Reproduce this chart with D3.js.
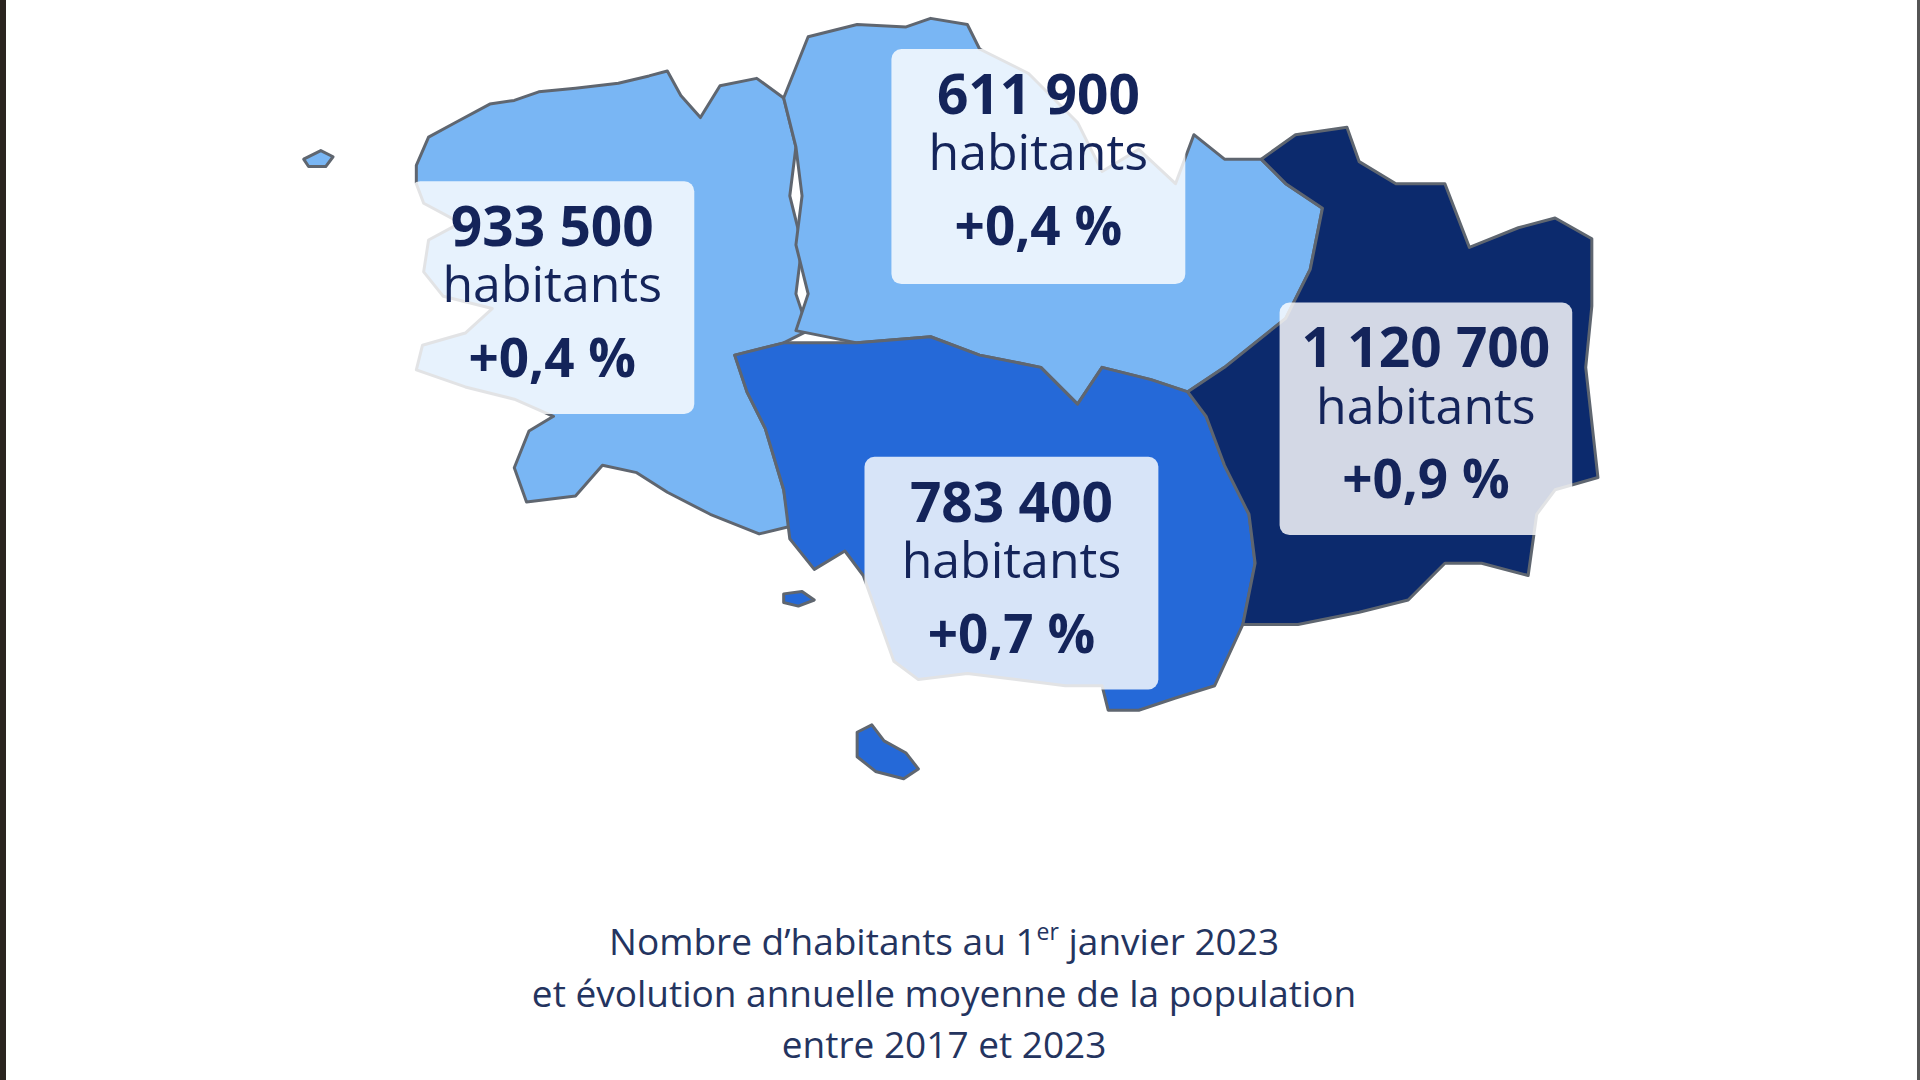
<!DOCTYPE html>
<html><head><meta charset="utf-8">
<script src="https://cdn.jsdelivr.net/npm/d3@7"></script>
<style>body{margin:0;background:#fff;overflow:hidden}svg{display:block}</style>
</head><body>
<script>
// Départements (reference grid units 1568x882)
const departements = ["Finistère","Côtes-d'Armor","Morbihan","Ille-et-Vilaine"];
const populations = ["933 500","611 900","783 400","1 120 700"];
const evolutions = ["+0,4 %","+0,4 %","+0,7 %","+0,9 %"];
const fills = ["#79b6f4","#79b6f4","#2569d8","#0c2a6d"];
const outlines = [
 [[340,135],[350,112],[372,100],[400,85],[420,82],[440,75],[470,72],[505,68],[530,62],[545,58],[556,78],[572,96],[588,70],[618,64],[640,80],[650,120],[645,160],[655,200],[650,240],[660,270],[640,280],[600,290],[610,320],[625,350],[640,400],[645,430],[620,436],[580,420],[545,402],[520,386],[492,380],[470,405],[430,410],[420,382],[432,352],[452,340],[420,326],[380,316],[340,302],[345,282],[380,272],[402,252],[362,242],[346,222],[350,196],[376,182],[346,166],[340,150]],
 [[640,80],[660,30],[700,20],[740,22],[760,15],[790,20],[800,40],[840,60],[880,100],[900,140],[930,122],[960,150],[975,110],[1000,130],[1030,130],[1050,150],[1080,170],[1070,220],[1050,260],[1000,300],[970,320],[940,310],[900,300],[880,330],[850,300],[800,290],[760,275],[700,280],[650,270],[660,240],[650,200],[655,160],[650,120]],
 [[600,290],[640,280],[700,280],[760,275],[800,290],[850,300],[880,330],[900,300],[940,310],[970,320],[985,340],[1000,380],[1020,420],[1025,460],[1015,510],[992,560],[960,570],[930,580],[905,580],[900,560],[870,560],[830,555],[790,550],[750,555],[730,540],[705,470],[690,450],[665,465],[645,440],[640,400],[625,350],[610,320]],
 [[1030,130],[1058,110],[1100,104],[1110,132],[1140,150],[1180,150],[1200,202],[1240,186],[1270,178],[1300,195],[1300,250],[1295,300],[1305,390],[1270,400],[1255,420],[1248,470],[1210,460],[1180,460],[1150,490],[1110,500],[1060,510],[1015,510],[1025,460],[1020,420],[1000,380],[985,340],[970,320],[1000,300],[1050,260],[1070,220],[1080,170],[1050,150]]
];
const islands = [
 {d:0, pts:[[248,130],[262,123],[272,128],[266,136],[252,136]]},
 {d:2, pts:[[700,598],[712,592],[722,605],[740,615],[750,628],[738,636],[715,630],[700,618]]},
 {d:2, pts:[[640,485],[655,483],[665,490],[652,495],[640,492]]}
];
const boxes = [[335,148,232,190],[728,40,240,192],[706,373,240,190],[1045,247,239,190]];
const caption = ["Nombre d’habitants au 1","et évolution annuelle moyenne de la population","entre 2017 et 2023"];

const W=1920,H=1080;
const x=d3.scaleLinear().domain([0,1568]).range([0,W]);
const y=d3.scaleLinear().domain([0,882]).range([0,H]);
const svg=d3.select("body").append("svg").attr("width",W).attr("height",H);
svg.append("rect").attr("width",W).attr("height",H).attr("fill","#fff");
svg.append("rect").attr("width",6).attr("height",H).attr("fill","#2a241f");
svg.append("rect").attr("x",W-3).attr("width",3).attr("height",H).attr("fill","#555");
const line=d3.line().x(d=>x(d[0])).y(d=>y(d[1])).curve(d3.curveLinearClosed);
const g=svg.append("g");
g.selectAll("path.dep").data(outlines).join("path").attr("d",line)
 .attr("fill",(d,i)=>fills[i]).attr("stroke","#5f6670").attr("stroke-width",3).attr("stroke-linejoin","round");
g.selectAll("path.isl").data(islands).join("path").attr("d",d=>line(d.pts))
 .attr("fill",d=>fills[d.d]).attr("stroke","#5f6670").attr("stroke-width",3).attr("stroke-linejoin","round");
const lab=svg.selectAll("g.lab").data(boxes).join("g");
lab.append("rect").attr("x",d=>x(d[0])).attr("y",d=>y(d[1])).attr("width",d=>x(d[2])).attr("height",d=>y(d[3]))
 .attr("rx",10).attr("fill","rgba(255,255,255,0.82)");
const cx=d=>x(d[0]+d[2]/2);
lab.append("text").attr("x",cx).attr("y",d=>y(d[1]+53)).text((d,i)=>populations[i])
 .attr("font-size",55).attr("font-weight",700);
lab.append("text").attr("x",cx).attr("y",d=>y(d[1]+99)).text("habitants").attr("font-size",50);
lab.append("text").attr("x",cx).attr("y",d=>y(d[1]+160)).text((d,i)=>evolutions[i])
 .attr("font-size",53).attr("font-weight",700);
lab.selectAll("text").attr("text-anchor","middle").attr("fill","#14245a").attr("font-family","'Open Sans',sans-serif");
const cap=svg.append("g").attr("font-family","'Open Sans',sans-serif").attr("font-size",37).attr("fill","#24345f").attr("text-anchor","middle");
const t0=cap.append("text").attr("x",x(771)).attr("y",y(780));
t0.append("tspan").text(caption[0]);
t0.append("tspan").text("er").attr("font-size",23).attr("dy",-15);
t0.append("tspan").text(" janvier 2023").attr("dy",15);
cap.append("text").attr("x",x(771)).attr("y",y(822)).text(caption[1]);
cap.append("text").attr("x",x(771)).attr("y",y(864)).text(caption[2]);
</script></body></html>
